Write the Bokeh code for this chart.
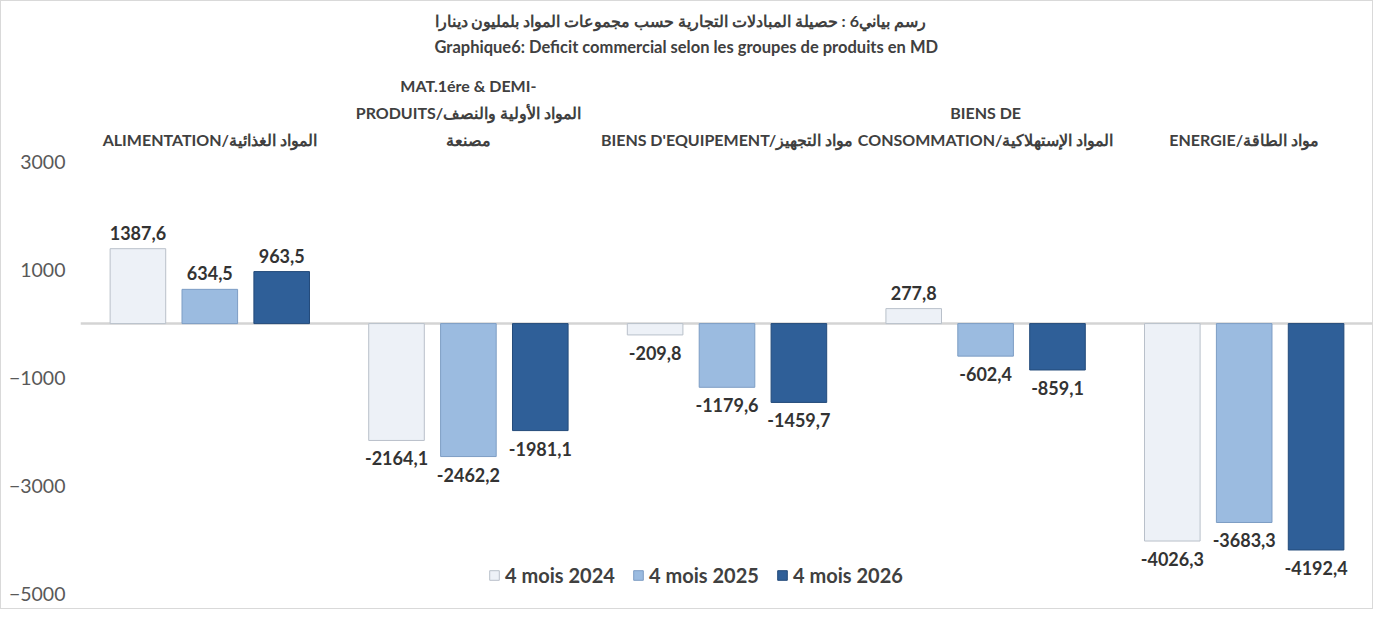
from bokeh.plotting import figure
from bokeh.models import (ColumnDataSource, FactorRange, Range1d, FixedTicker, Span,
                          Legend, LegendItem, Title)
from bokeh.transform import dodge
from bokeh.core.properties import value
from bokeh.embed import file_html
from bokeh.resources import INLINE

# ---------------- data ----------------
categories = [
    "ALIMENTATION/المواد الغذائية",
    "MAT.1ére & DEMI-\nPRODUITS/المواد الأولية والنصف\nمصنعة",
    "BIENS D'EQUIPEMENT/مواد التجهيز",
    "BIENS DE\nCONSOMMATION/المواد الإستهلاكية",
    "ENERGIE/مواد الطاقة",
]
series_names = ["4 mois 2024", "4 mois 2025", "4 mois 2026"]
s2024 = [1387.6, -2164.1, -209.8, 277.8, -4026.3]
s2025 = [634.5, -2462.2, -1179.6, -602.4, -3683.3]
s2026 = [963.5, -1981.1, -1459.7, -859.1, -4192.4]
y_ticks = [3000, 1000, -1000, -3000, -5000]
title_ar = "رسم بياني6 :  حصيلة المبادلات  التجارية حسب مجموعات المواد  بلمليون دينارا"
title_fr = "Graphique6: Deficit commercial selon les groupes de produits en MD"

# ---------------- styles ----------------
FONT = "Lato"
TXT = "#404040"
fills = ["#edf1f7", "#9bbbe0", "#2f5f98"]
lines = ["#b9c0ca", "#7d9dc4", "#234a7a"]
offsets = [-0.278, 0.0, 0.278]

def fmt(v):
    return ("%.1f" % v).replace(".", ",")

W, H = 1373, 609
p = figure(width=W, height=H, output_backend="svg", toolbar_location=None,
           x_range=FactorRange(factors=categories, range_padding=0, factor_padding=0),
           y_range=Range1d(-5313, 4891), x_axis_location=None,
           min_border_left=79, min_border_right=1, min_border_top=58, min_border_bottom=0,
           title=None)
p.outline_line_color = None
p.xgrid.visible = False
p.ygrid.visible = False
p.background_fill_color = "white"
p.border_fill_color = "white"
p.styles = {"border": "1px solid #d9d9d9", "box-sizing": "border-box"}

# titles
p.add_layout(Title(text=title_fr, align="left", offset=354, text_font=FONT,
                   text_font_size="16.5px", text_font_style="bold", text_color=TXT,
                   standoff=6), "above")
p.add_layout(Title(text=title_ar, align="left", offset=354, text_font=FONT,
                   text_font_size="16px", text_font_style="bold", text_color=TXT,
                   standoff=4), "above")

# y axis
yax = p.yaxis[0]
yax.ticker = FixedTicker(ticks=y_ticks)
yax.axis_line_color = None
yax.major_tick_line_color = None
yax.minor_tick_line_color = None
yax.major_tick_out = 0
yax.major_tick_in = 0
yax.major_label_standoff = 15
yax.major_label_text_font = FONT
yax.major_label_text_font_size = "19.5px"
yax.major_label_text_color = "#595959"

# zero line
p.add_layout(Span(location=0, dimension="width", line_color="#d4d4d4",
                  line_width=2.5, level="underlay"))

data = dict(cat=categories, s0=s2024, s1=s2025, s2=s2026)
for i, s in enumerate([s2024, s2025, s2026]):
    data["lab%d" % i] = [fmt(v) for v in s]
    data["yo%d" % i] = [-9 if v >= 0 else 11 for v in s]
    data["bl%d" % i] = ["bottom" if v >= 0 else "top" for v in s]
src = ColumnDataSource(data)

items = []
for i in range(3):
    r = p.vbar(x=dodge("cat", offsets[i], range=p.x_range), top="s%d" % i, bottom=0,
               width=0.215, source=src, fill_color=fills[i], line_color=lines[i],
               line_width=1)
    items.append(LegendItem(label=series_names[i], renderers=[r]))
    p.text(x=dodge("cat", offsets[i], range=p.x_range), y="s%d" % i, text="lab%d" % i,
           y_offset="yo%d" % i, text_baseline="bl%d" % i, text_align="center",
           source=src, text_font=value(FONT), text_font_size="18px",
           text_font_style="bold", text_color="#333333")

# category labels
cat_src = ColumnDataSource(dict(cat=categories, y=[3235] * len(categories)))
p.text(x="cat", y="y", text="cat", source=cat_src, text_align="center",
       text_baseline="bottom", text_font=value(FONT), text_font_size="16px",
       text_font_style="bold", text_color=TXT, text_line_height=1.42)

legend = Legend(items=items, orientation="horizontal", location=(408, 23),
                glyph_width=12, glyph_height=12, label_standoff=5, label_width=112,
                spacing=15, padding=0, margin=0, border_line_color=None,
                background_fill_alpha=0, label_text_font=FONT,
                label_text_font_size="20px", label_text_font_style="bold",
                label_text_color=TXT)
p.add_layout(legend)

open("out.html", "w").write(file_html(p, INLINE))
